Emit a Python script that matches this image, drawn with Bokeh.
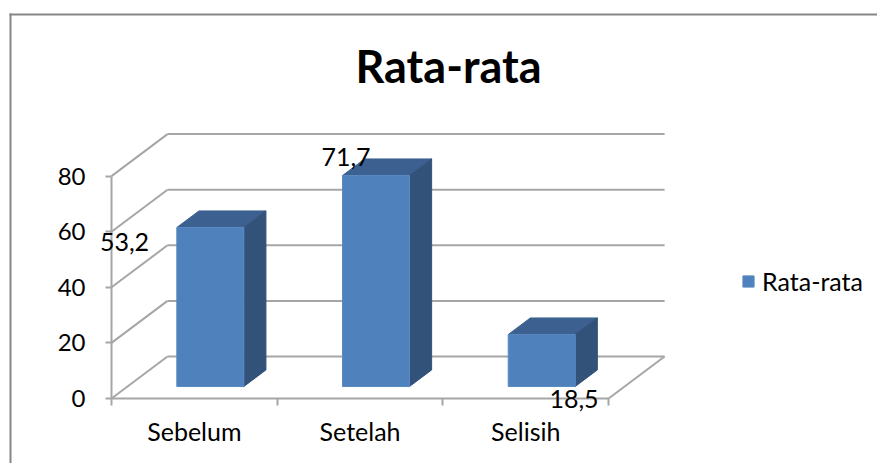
from bokeh.plotting import figure
from bokeh.models import (Range1d, FixedTicker, BoxAnnotation, Label, LabelSet, Legend, LegendItem,
                          ColumnDataSource, LinearAxis)
from bokeh.core.properties import value
from bokeh.embed import file_html
from bokeh.resources import INLINE

categories = ["Sebelum", "Setelah", "Selisih"]
bar_heights = [57.2, 75.9, 18.7]          # as drawn in the picture
value_labels = ["53,2", "71,7", "18,5"]   # as printed in the picture
y_ticks = [0, 20, 40, 60, 80]
series_name = "Rata-rata"
title_text = "Rata-rata"

FONT = "Lato"
GRID = "#A6A6A6"
W, H = 877, 463
OX, OY = 111, 398   # pixel position of the axes' origin
PX_X = 165.7   # pixels per category
PX_Y = 2.78    # pixels per value unit
DX = 56 / PX_X  # floor depth, in category units
DY = 42 / PX_Y  # floor depth, in value units
BAR_W = 67 / PX_X
D0, D1 = 0.285, 0.68  # bar depth extent, fraction of floor depth


def xd(px):
    return (px - OX) / PX_X


def yd(py):
    return (OY - py) / PX_Y


p = figure(width=W, height=H, output_backend="svg", toolbar_location=None,
           x_range=Range1d(xd(0), xd(W)), y_range=Range1d(yd(H), yd(0)),
           x_axis_type=None, y_axis_type=None,
           min_border_left=0, min_border_bottom=0, min_border_top=0, min_border_right=0,
           outline_line_color=None, background_fill_color="white", border_fill_color="white")

# back wall, side wall and floor lines
n = len(categories)
p.segment(x0=[DX] * len(y_ticks), y0=[t + DY for t in y_ticks],
          x1=[n + DX] * len(y_ticks), y1=[t + DY for t in y_ticks],
          line_color=GRID, line_width=2)
p.segment(x0=[0] * len(y_ticks), y0=y_ticks, x1=[DX] * len(y_ticks), y1=[t + DY for t in y_ticks],
          line_color=GRID, line_width=2)
p.segment(x0=[n], y0=[0], x1=[n + DX], y1=[DY], line_color=GRID, line_width=2)

# axes
xa = LinearAxis(fixed_location=0)
xa.ticker = FixedTicker(ticks=[i + 0.5 for i in range(n)], minor_ticks=list(range(n + 1)))
xa.major_label_overrides = {i + 0.5: c for i, c in enumerate(categories)}
xa.bounds = (0, n)
xa.major_tick_line_color = None
xa.minor_tick_line_color = GRID
xa.minor_tick_line_width = 2
xa.minor_tick_out = 7
xa.minor_tick_in = 0
xa.axis_line_color = GRID
xa.axis_line_width = 2
xa.major_label_text_font = FONT
xa.major_label_text_font_size = "25px"
xa.major_label_text_color = "#000000"
xa.major_label_standoff = 10
p.add_layout(xa, "below")

ya = LinearAxis(fixed_location=0)
ya.ticker = FixedTicker(ticks=y_ticks)
ya.bounds = (y_ticks[0], y_ticks[-1])
ya.major_tick_line_color = GRID
ya.major_tick_line_width = 2
ya.major_tick_out = 6
ya.major_tick_in = 0
ya.minor_tick_line_color = None
ya.axis_line_color = GRID
ya.axis_line_width = 2
ya.major_label_text_font = FONT
ya.major_label_text_font_size = "24px"
ya.major_label_text_color = "#000000"
ya.major_label_standoff = 20
p.add_layout(ya, "left")

# bars
left = [i + 0.5 - BAR_W / 2 + D0 * DX for i in range(n)]
right = [l + BAR_W for l in left]
y0 = D0 * DY
d = D1 - D0
tops = [y0 + h for h in bar_heights]

top_xs = [[l, r, r + d * DX, l + d * DX] for l, r in zip(left, right)]
top_ys = [[t, t, t + d * DY, t + d * DY] for t in tops]
side_xs = [[r, r + d * DX, r + d * DX, r] for r in right]
side_ys = [[t, t + d * DY, y0 + d * DY, y0] for t in tops]

p.patches(top_xs, top_ys, fill_color="#3C6190", line_color="#3C6190", line_width=1)
p.patches(side_xs, side_ys, fill_color="#32527A", line_color="#32527A", line_width=1)
front = p.quad(left=left, right=right, bottom=[y0] * n, top=tops,
               fill_color="#4F81BD", line_color="#5B8AC2", line_width=1)

# data labels (hand-placed in the source chart)
lbl = ColumnDataSource(dict(x=[xd(124), xd(345.5), xd(573.5)], y=[yd(241), yd(156), yd(398)],
                            text=value_labels))
p.add_layout(LabelSet(x="x", y="y", text="text", source=lbl, text_align="center",
                      text_baseline="middle", text_font=value(FONT), text_font_size="25px",
                      text_color="#000000"))

# title
p.add_layout(Label(x=xd(448), y=yd(65), text=title_text, text_align="center", text_baseline="middle",
                   text_font=FONT, text_font_size="45px", text_font_style="bold",
                   text_color="#000000"))

# chart-area border (top and left only are visible)
p.add_layout(BoxAnnotation(left=xd(9), right=xd(11), top=yd(13), bottom=yd(H),
                           fill_color="#868686", fill_alpha=1, line_color=None, level="overlay"))
p.add_layout(BoxAnnotation(left=xd(9), right=xd(W), top=yd(13), bottom=yd(15),
                           fill_color="#868686", fill_alpha=1, line_color=None, level="overlay"))

# legend
legend = Legend(items=[LegendItem(label=series_name, renderers=[front])],
                location=(741, 167), orientation="vertical",
                background_fill_alpha=0, border_line_color=None,
                label_text_font=FONT, label_text_font_size="25px", label_text_color="#000000",
                glyph_width=14, glyph_height=14, padding=0, margin=0, label_standoff=7)
p.add_layout(legend, "center")

open("out.html", "w").write(file_html(p, INLINE))
